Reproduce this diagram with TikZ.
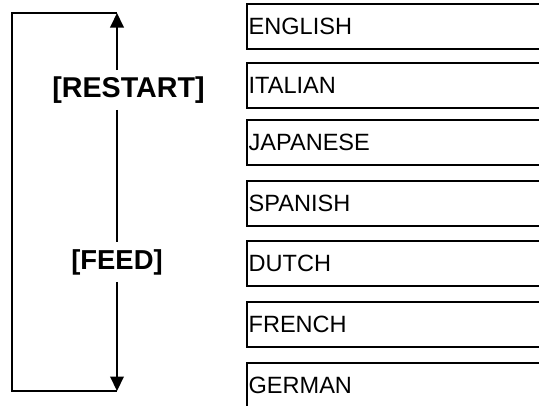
\documentclass[tikz,border=0pt]{standalone}
\usepackage{fontspec}
\setmainfont{Liberation Sans}
\usetikzlibrary{arrows.meta}

\begin{document}
\begin{tikzpicture}[
  lang/.style ={draw=black, line width=1pt, anchor=north west,
                minimum height=0.9cm, text width=6.5cm, inner xsep=0.035cm,
                align=left, font=\fontsize{13.4}{15}\selectfont},
  keylbl/.style={font=\fontsize{15.6}{18}\selectfont\bfseries,
                inner sep=0pt, minimum height=0.78cm},
  arr/.style  ={-{Triangle[width=0.27cm,length=0.29cm]}, line width=1.1pt},
  wire/.style ={line width=1.1pt}
]
  \useasboundingbox (0,0) rectangle (10.78,-8.10);
  \clip (0,0) rectangle (10.78,-8.10);

  %% ── Language list (boxes run off the right edge) ───────────────────────
  \node[lang] (en) at (4.92,-0.06) {ENGLISH};
  \node[lang] (it) at (4.92,-1.24) {ITALIAN};
  \node[lang] (ja) at (4.92,-2.38) {JAPANESE};
  \node[lang] (es) at (4.92,-3.60) {SPANISH};
  \node[lang] (nl) at (4.92,-4.80) {DUTCH};
  \node[lang] (fr) at (4.92,-6.02) {FRENCH};
  \node[lang] (de) at (4.92,-7.24) {GERMAN};

  %% ── Keys ───────────────────────────────────────────────────────────────
  \node[keylbl, font=\fontsize{16.3}{18}\selectfont\bfseries]
               (restart) at (2.57,-1.80) {[RESTART]};
  \node[keylbl] (feed)    at (2.34,-5.24) {[FEED]};

  %% ── Loop corners ───────────────────────────────────────────────────────
  \coordinate (top) at (2.34,-0.26);
  \coordinate (bot) at (2.34,-7.82);
  \coordinate (tl)  at (0.24,-0.26);
  \coordinate (bl)  at (0.24,-7.82);

  %% ── Arrows: RESTART up, FEED down, wrap-around on the left ─────────────
  \draw[arr]  (restart.north -| top) -- (top);
  \draw[wire] (restart.south -| top) -- (feed.north);
  \draw[arr]  (feed.south) -- (bot);
  \draw[wire] (top) -- (tl) -- (bl) -- (bot);

\end{tikzpicture}
\end{document}
